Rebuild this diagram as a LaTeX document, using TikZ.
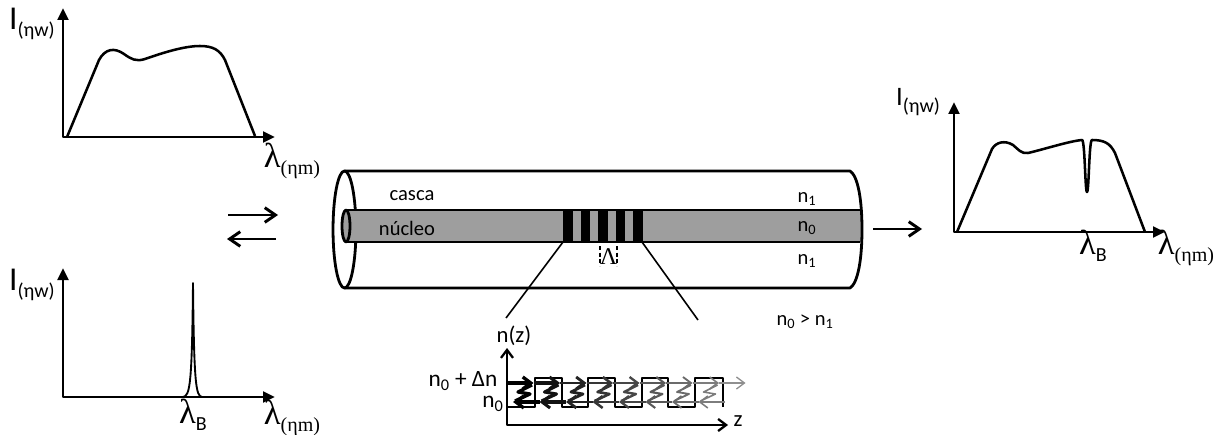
\documentclass[tikz,border=0pt]{standalone}
\usepackage{amsmath}
\usepackage{fontspec}
\setmainfont{Carlito}
\newfontfamily\serifgr{Liberation Serif}
\usetikzlibrary{arrows.meta}

\definecolor{core}{gray}{0.62}
\newcommand{\ilab}[1]{{\fontsize{#1}{#1}\selectfont I}\raisebox{-5pt}{\fontsize{15}{16}\selectfont(ηw)}}
\newcommand{\llab}[1]{{\serifgr\fontsize{26}{28}\selectfont λ}\raisebox{-5pt}{\fontsize{15}{16}\selectfont #1}}

\begin{document}
\begin{tikzpicture}[x=0.75pt,y=-0.75pt,line join=round,
    axis/.style={line width=2.2pt,{Triangle[length=9pt,width=8pt]}-{Triangle[length=9pt,width=8pt]}},
    spec/.style={line width=1.9pt},
    ray/.style={line width=2.2pt,-{Straight Barb[length=8pt,width=11pt]}},
    tube/.style={line width=2.1pt},
    every node/.style={inner sep=0pt,font=\fontsize{15.4}{18}\selectfont}]
  \useasboundingbox (0,0) rectangle (1214,435);

  % broadband source
  \coordinate (o_in) at (63,137);
  \draw[axis] (63,8) -- (o_in) -- (275,137);
  \draw[spec] (67,137) -- (99,60) .. controls (105,49) and (114,47) .. (124,54)
      .. controls (131,59) and (136,62) .. (145,59) .. controls (165,52) and (185,46) .. (200,46)
      .. controls (213,46) and (220,50) .. (225,60) -- (255,136);
  \node (i_in) at (32,24) {\ilab{25}};
  \node (l_in) at (292,161) {\llab{{\serifgr(ηm)}}};

  % reflected peak
  \coordinate (o_ref) at (63,397);
  \draw[axis] (63,268) -- (o_ref) -- (275,397);
  \draw[spec,line width=1.4pt] (183,397) .. controls (190,396) and (192,385) .. (193,283)
      .. controls (194,385) and (196,396) .. (202,397);
  \node (i_ref) at (32,285) {\ilab{25}};
  \node (lb_ref) at (193,415) {\llab{B}};
  \node (l_ref) at (292,418) {\llab{{\serifgr(ηm)}}};

  % in and back
  \coordinate (a_in) at (228,215);
  \coordinate (a_fib) at (278,215);
  \coordinate (b_fib) at (276,239);
  \coordinate (b_in) at (227,239);
  \draw[ray] (a_in) -- (a_fib);
  \draw[ray] (b_fib) -- (b_in);

  % fibre
  \draw[tube] (344.5,229.5) ellipse [x radius=8.6pt,y radius=43.9pt];
  \fill[core] (346,210) rectangle (861,242);
  \foreach \i in {0,...,4}
    \fill (563+17.5*\i,210) rectangle +(9.5,32);
  \draw[tube] (346,210) -- (860,210) (346,242) -- (860,242);
  \filldraw[tube,fill=core] (346,226) ellipse [x radius=3pt,y radius=12pt];
  \draw[tube] (344.5,171) -- (850,171) .. controls (858,176) and (862,200) .. (862,229.5)
      .. controls (862,259) and (858,283) .. (850,288) -- (344.5,288);

  \node (casca) at (412,196) {casca};
  \node (nucleo) at (407,228) {núcleo};
  \node (n_up) at (807,199) {n\textsubscript{1}};
  \node (n_core) at (807,228) {n\textsubscript{0}};
  \node (n_low) at (807,261) {n\textsubscript{1}};
  \node (n_rel) at (805,322) {n\textsubscript{0} > n\textsubscript{1}};

  % grating period
  \draw[line width=1pt,dash pattern=on 3pt off 2pt] (600,246) -- (600,266) (617,246) -- (617,266);
  \node (period) at (608.5,257) {\serifgr\fontsize{18}{20}\selectfont Λ};
  \coordinate (g_l) at (563,242);
  \coordinate (g_r) at (642,242);
  \draw[line width=1.2pt] (g_l) -- (506,318) (g_r) -- (698,320);

  % index profile
  \coordinate (o_n) at (507,425);
  \draw[line width=1.7pt,{Straight Barb[length=6pt,width=9pt]}-{Straight Barb[length=6pt,width=9pt]}]
      (507,348) -- (o_n) -- (728,425);
  \draw[line width=1.4pt] (507,407) -| (535,378) -| (562,407) -| (588,378) -| (615,407)
      -| (642,378) -| (668,407) -| (695,378) -| (723,407);
  \foreach \k in {0,...,8} {
    \pgfmathsetmacro\w{2.5-0.19*\k}
    \pgfmathtruncatemacro\c{100-7*\k}
    \draw[black!\c,line width=\w pt,-{Straight Barb[length=6pt,width=9pt]}]
        (507+26.5*\k,383) -- ++(26.5,0);
  }
  \foreach \k in {0,...,7} {
    \pgfmathsetmacro\w{2.5-0.19*\k}
    \pgfmathtruncatemacro\c{100-7*\k}
    \draw[black!\c,line width=\w pt] (532+26.5*\k,385) -- (518+26.5*\k,392)
        -- (530+26.5*\k,394) -- (515+26.5*\k,401);
    \draw[black!\c,line width=\w pt,-{Straight Barb[length=6pt,width=9pt]}]
        (539.5+26.5*\k,402) -- ++(-26.5,0);
  }
  \node (nz) at (514,336) {\fontsize{17}{20}\selectfont n(z)};
  \node (z) at (738,421) {\fontsize{17}{20}\selectfont z};
  \node (n_hi) at (463,381) {\fontsize{17.5}{20}\selectfont n\textsubscript{0} + Δn};
  \node (n_lo) at (493,404) {\fontsize{17.5}{20}\selectfont n\textsubscript{0}};

  % transmitted spectrum
  \coordinate (f_out) at (873,229);
  \coordinate (s_out) at (922,229);
  \draw[ray] (f_out) -- (s_out);
  \coordinate (o_out) at (954,232);
  \draw[axis] (954,102) -- (o_out) -- (1165,232);
  \draw[spec] (957,232) -- (992,149) .. controls (996,142) and (1005,140) .. (1013,145)
      .. controls (1018,149) and (1021,154) .. (1028,153) .. controls (1045,149) and (1070,141) .. (1082,140)
      .. controls (1085,140) and (1085,192) .. (1087,192) .. controls (1089,192) and (1089,140) .. (1092,140)
      .. controls (1104,140) and (1110,143) .. (1115,153) -- (1145,232);
  \node (i_out) at (918,102) {\ilab{20}};
  \node (lb_out) at (1093,246) {\llab{B}};
  \node (l_out) at (1186,248) {\llab{{\serifgr(ηm)}}};
\end{tikzpicture}
\end{document}
